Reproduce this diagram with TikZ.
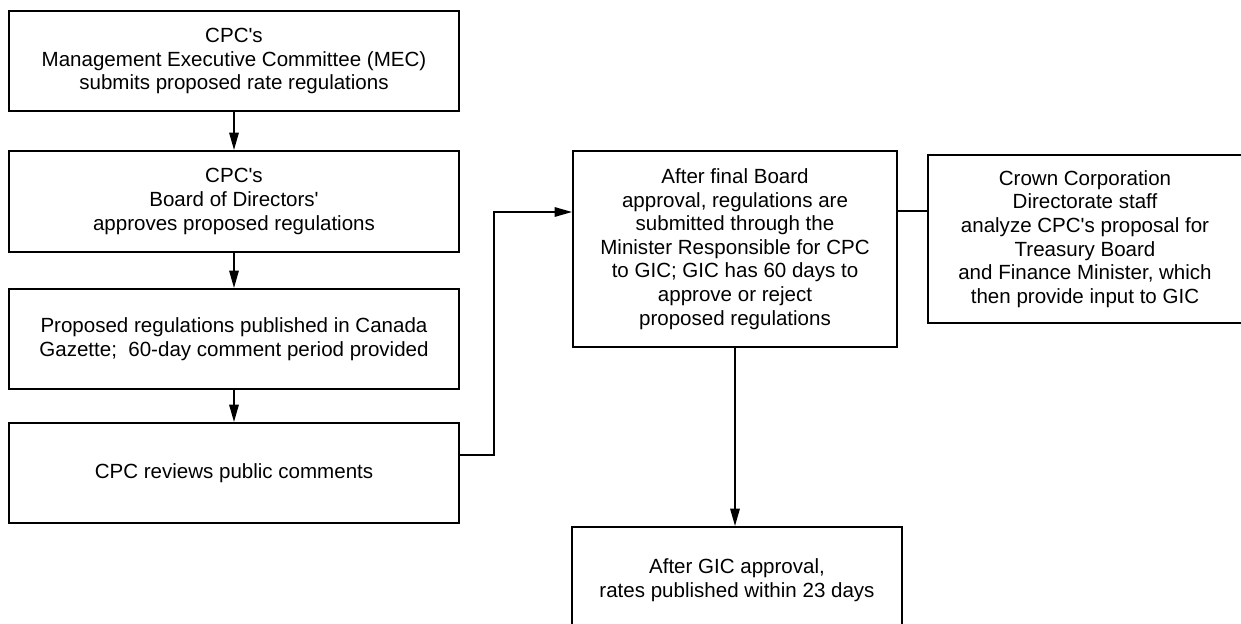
\documentclass[tikz,border=0pt]{standalone}
\usepackage{fontspec}
\setmainfont{Liberation Sans}[Ligatures=TeXOff]
\usetikzlibrary{arrows.meta}

\begin{document}
\begin{tikzpicture}[x=0.75pt,y=-0.75pt,
    box/.style={draw=black,line width=1.4pt,align=center,inner sep=3pt,
        font=\fontsize{15.4}{17.7}\selectfont},
    arrow/.style={line width=1.4pt,-{Triangle[length=13pt,width=7pt]}}]
    \path [use as bounding box,clip] (0,0) rectangle (1241,624);
    % left column
    \node [box,minimum width=337.5pt,minimum height=75pt] (mec) at (234,61)
        {CPC's\\Management Executive Committee (MEC)\\submits proposed rate regulations};
    \node [box,minimum width=337.5pt,minimum height=75.75pt] (board) at (234,201.5)
        {CPC's\\Board of Directors'\\approves proposed regulations};
    \node [box,minimum width=337.5pt,minimum height=75pt] (gazette) at (234,339)
        {Proposed regulations published in Canada\\Gazette;~ 60-day comment period provided};
    \node [box,minimum width=337.5pt,minimum height=75pt] (review) at (234,473)
        {CPC reviews public comments};
    % right side
    \node [box,minimum width=243pt,minimum height=147pt] (gic) at (735,249)
        {After final Board\\approval, regulations are\\submitted through the\\Minister Responsible for CPC\\to GIC; GIC has 60 days to\\approve or reject\\proposed regulations};
    \node [box,minimum width=235.5pt,minimum height=126pt] (crown) at (1085,239)
        {Crown Corporation\\Directorate staff\\analyze CPC's proposal for\\Treasury Board\\and Finance Minister, which\\then provide input to GIC};
    \node [box,minimum width=247.5pt,minimum height=79.5pt] (rates) at (737,580)
        {After GIC approval,\\rates published within 23 days};
    % connectors
    \draw [arrow] (mec) -- (board);
    \draw [arrow] (board) -- (gazette);
    \draw [arrow] (gazette) -- (review);
    \draw [arrow] ([yshift=13.5pt]review.east) -- ++(25.5pt,0) |- ([yshift=27.75pt]gic.west);
    \draw [line width=1.4pt] ([yshift=28.5pt]gic.east) -- ([yshift=28.5pt]gic.east -| crown.west);
    \draw [arrow] (gic.south) -- (gic.south |- rates.north);
\end{tikzpicture}
\end{document}
